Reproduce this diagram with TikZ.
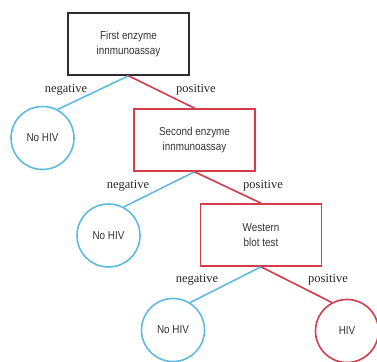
\documentclass[tikz,border=0pt]{standalone}
\usepackage{fontspec}
\setmainfont{Liberation Serif}
\newfontfamily\boxfont[FakeStretch=0.86]{Liberation Sans}
\definecolor{negblue}{RGB}{95,185,225}
\definecolor{posred}{RGB}{210,60,75}
\definecolor{darkbox}{RGB}{45,45,45}
\tikzset{
  testbox/.style={draw, line width=1.6pt, minimum width=121pt, minimum height=62pt, inner sep=0pt, align=center, font=\boxfont\fontsize{11.5}{15}\selectfont, text=black!80},
  result/.style={circle, draw, line width=1.6pt, minimum size=63pt, inner sep=0pt, font=\boxfont\fontsize{11.5}{15}\selectfont, text=black!80},
  negline/.style={draw=negblue, line width=1.6pt},
  posline/.style={draw=posred, line width=1.6pt},
  lbl/.style={font=\fontsize{12.5}{14}\selectfont, text=black!85, inner sep=0pt}
}
\begin{document}
\begin{tikzpicture}[x=1pt,y=-1pt]
\useasboundingbox (0,0) rectangle (377,361);
\node[testbox, draw=darkbox] (b1) at (128.5,44) {First enzyme\\innmunoassay};
\node[testbox, draw=posred] (b2) at (194.5,140) {Second enzyme\\innmunoassay};
\node[testbox, draw=posred] (b3) at (261,235) {Western\\blot test};
\node[result, draw=negblue] (c1) at (42.5,138) {No HIV};
\node[result, draw=negblue] (c2) at (108.5,235.5) {No HIV};
\node[result, draw=negblue] (c3) at (173,330) {No HIV};
\node[result, draw=posred] (c4) at (347,331) {HIV};
\draw[negline] (b1.south) -- (c1.62);
\draw[posline] (b1.south) -- (b2.north);
\draw[negline] (b2.south) -- (c2.62);
\draw[posline] (b2.south) -- (b3.north);
\draw[negline] (b3.south) -- (c3.58);
\draw[posline] (b3.south) -- (c4.118);
\node[lbl] (l1) at (66,90) {negative};
\node[lbl] (l2) at (196,90) {positive};
\node[lbl] (l3) at (128,186) {negative};
\node[lbl] (l4) at (263,186) {positive};
\node[lbl] (l5) at (197,280) {negative};
\node[lbl] (l6) at (328,280) {positive};
\end{tikzpicture}
\end{document}
